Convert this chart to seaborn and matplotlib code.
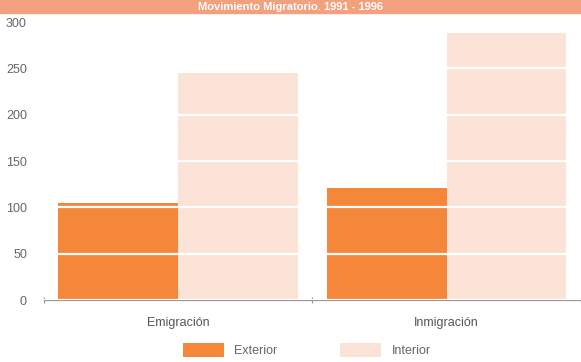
import matplotlib
matplotlib.use("Agg")
import matplotlib.pyplot as plt
import pandas as pd
import seaborn as sns
from matplotlib.patches import Rectangle
from matplotlib.ticker import FixedLocator

categories = ["Emigración", "Inmigración"]
series = ["Exterior", "Interior"]
exterior = [105, 121]
interior = [245, 288]
colors = ["#F5873A", "#FCE3D8"]

data = pd.DataFrame({
    "cat": categories * 2,
    "serie": [series[0]] * 2 + [series[1]] * 2,
    "valor": exterior + interior,
})

sns.set_style("white")
plt.rcParams["font.family"] = ["Liberation Sans", "DejaVu Sans"]

fig = plt.figure(figsize=(5.81, 3.62), dpi=100)
ax = fig.add_axes([0.075, 0.171, 0.925, 0.768])

sns.barplot(data=data, x="cat", y="valor", hue="serie", hue_order=series,
            palette=colors, width=0.89, saturation=1, ax=ax, legend=True)
for p in ax.patches:
    p.set_edgecolor("none")

ax.set(xlabel="", ylabel="", ylim=(0, 300), xlim=(-0.5, 1.5))
ax.set_yticks(range(0, 301, 50))
ax.yaxis.grid(True, color="white", linewidth=1.6)
ax.set_axisbelow(False)
for s in ("top", "right", "left"):
    ax.spines[s].set_visible(False)
ax.spines["bottom"].set_color("#9a9a9a")
ax.spines["bottom"].set_linewidth(0.9)
ax.tick_params(axis="y", length=0, labelsize=9, labelcolor="#666666", pad=12)
ax.tick_params(axis="x", which="major", length=0, labelsize=9, labelcolor="#555555", pad=12)
ax.xaxis.set_minor_locator(FixedLocator([-0.5, 0.5, 1.5]))
ax.tick_params(axis="x", which="minor", bottom=True, length=5, width=0.9,
               direction="inout", color="#9a9a9a")

leg = ax.legend(loc="upper center", bbox_to_anchor=(0.49, -0.115), ncol=2,
                frameon=False, fontsize=9, handlelength=3.3, handleheight=1.3,
                columnspacing=5.0, handletextpad=0.8)
for t in leg.get_texts():
    t.set_color("#666666")

fig.patches.append(Rectangle((0, 0.965), 1, 0.035, transform=fig.transFigure,
                             color="#F2A07E", zorder=0))
fig.text(0.5, 0.982, "Movimiento Migratorio. 1991 - 1996", color="white",
         fontsize=8, fontweight="bold", va="center", ha="center")

fig.savefig("out.png", dpi=100)
